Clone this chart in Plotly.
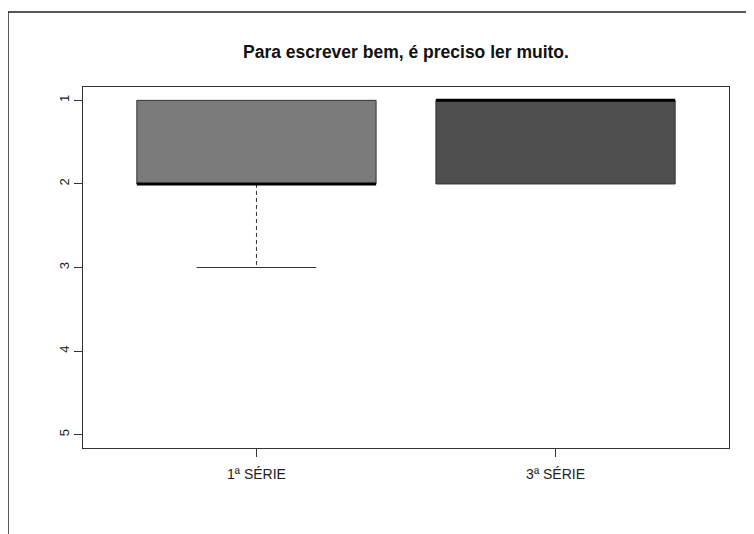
import plotly.graph_objects as go

# box statistics per group (R boxplot style)
groups = ["1ª SÉRIE", "3ª SÉRIE"]
positions = [1, 2]
q1 = [1, 1]
median = [2, 1]
q3 = [2, 2]
lower_whisker = [1, 1]
upper_whisker = [3, 2]
fills = ["#7b7b7b", "#4e4e4e"]
title_text = "Para escrever bem, é preciso ler muito."
y_ticks = [1, 2, 3, 4, 5]

box_w = 0.8
cap_w = 0.4
edge = "#333333"

# page body adds an 8px offset, so margins are compensated
L, T, W, H = 75, 79, 646, 361

fig = go.Figure()

# boxes
fig.add_trace(go.Bar(
    x=positions,
    y=[b - a for a, b in zip(q1, q3)],
    base=q1,
    width=box_w,
    marker=dict(color=fills, line=dict(color=edge, width=1)),
    hoverinfo="skip",
    showlegend=False,
))

for i, p in enumerate(positions):
    # whiskers (dashed) and staples
    if upper_whisker[i] > q3[i]:
        fig.add_trace(go.Scatter(
            x=[p, p], y=[q3[i], upper_whisker[i]], mode="lines",
            line=dict(color=edge, width=1, dash="4px,3px"), showlegend=False, hoverinfo="skip"))
        fig.add_trace(go.Scatter(
            x=[p - cap_w / 2, p + cap_w / 2], y=[upper_whisker[i], upper_whisker[i]], mode="lines",
            line=dict(color=edge, width=1), showlegend=False, hoverinfo="skip"))
    if lower_whisker[i] < q1[i]:
        fig.add_trace(go.Scatter(
            x=[p, p], y=[lower_whisker[i], q1[i]], mode="lines",
            line=dict(color=edge, width=1, dash="4px,3px"), showlegend=False, hoverinfo="skip"))
        fig.add_trace(go.Scatter(
            x=[p - cap_w / 2, p + cap_w / 2], y=[lower_whisker[i], lower_whisker[i]], mode="lines",
            line=dict(color=edge, width=1), showlegend=False, hoverinfo="skip"))
    # median
    fig.add_trace(go.Scatter(
        x=[p - box_w / 2, p + box_w / 2], y=[median[i], median[i]], mode="lines",
        line=dict(color="#000000", width=3), showlegend=False, hoverinfo="skip"))

fig.update_layout(
    width=754, height=534,
    margin=dict(l=L, r=754 - L - W, t=T, b=534 - T - H),
    paper_bgcolor="white", plot_bgcolor="white",
    font=dict(family="Liberation Sans, Arial", color="#222222"),
    title=dict(text="<b>" + title_text + "</b>", x=0.5, xref="paper",
               y=1 - 44 / 534, yref="container", yanchor="middle",
               font=dict(size=17.5, color="#111111")),
    xaxis=dict(range=[0.42, 2.58], tickvals=positions, ticktext=groups,
               showgrid=False, zeroline=False, showline=True, mirror=True,
               linecolor=edge, linewidth=1, ticks="outside", ticklen=8,
               tickcolor=edge, tickfont=dict(size=14), ticklabelstandoff=5),
    yaxis=dict(range=[5.16, 0.84], tickvals=y_ticks, tickangle=-90,
               showgrid=False, zeroline=False, showline=True, mirror=True,
               linecolor=edge, linewidth=1, ticks="outside", ticklen=8,
               tickcolor=edge, tickfont=dict(size=13)),
    shapes=[dict(type="rect", xref="paper", yref="paper",
                 x0=(0 - L) / W, x1=1.2, y0=-0.4, y1=(T + H - 4) / H,
                 line=dict(color="#222222", width=1.5), layer="below")],
)

fig.write_html("out.html")
